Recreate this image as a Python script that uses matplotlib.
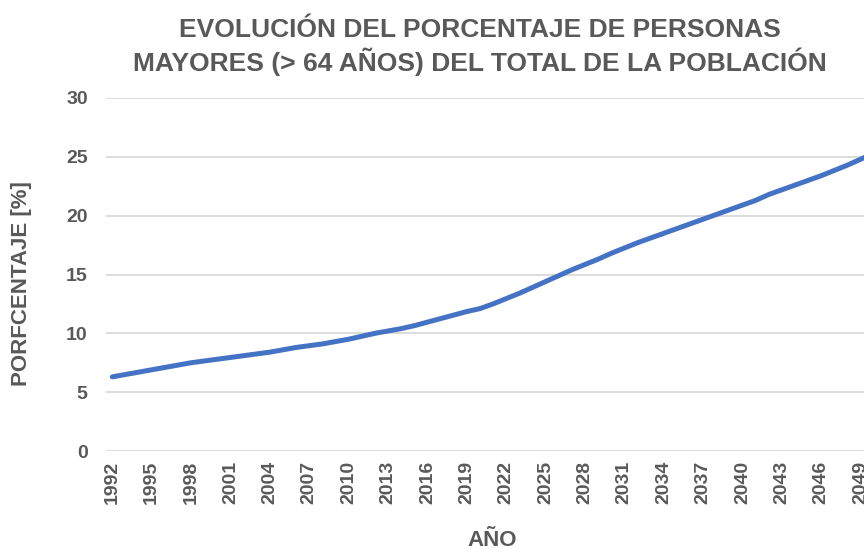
import matplotlib
matplotlib.use("Agg")
import matplotlib.pyplot as plt

years = list(range(1992, 2051))
porcentaje = [6.3, 6.5, 6.7, 6.9, 7.1, 7.3, 7.5, 7.65, 7.8, 7.95,
              8.1, 8.25, 8.4, 8.6, 8.8, 8.95, 9.1, 9.3, 9.5, 9.75,
              10.0, 10.2, 10.4, 10.65, 10.95, 11.25, 11.55, 11.85, 12.1, 12.5,
              12.95, 13.4, 13.9, 14.4, 14.9, 15.4, 15.85, 16.3, 16.8, 17.25,
              17.7, 18.1, 18.5, 18.9, 19.3, 19.7, 20.1, 20.5, 20.9, 21.3,
              21.8, 22.2, 22.6, 23.0, 23.4, 23.85, 24.3, 24.8, 25.3]
xtick_years = list(range(1992, 2050, 3))
yticks = [0, 5, 10, 15, 20, 25, 30]

gray = "#595959"
plt.rcParams["font.family"] = ["Liberation Sans", "DejaVu Sans"]

fig = plt.figure(figsize=(8.64, 5.5), dpi=100)
# plot area runs past the right edge, the original is cropped there
ax = fig.add_axes([105.7 / 864, 99 / 550, 774.7 / 864, 353 / 550])

ax.plot(years, porcentaje, color="#4472C4", lw=3.6, solid_capstyle="round")

ax.set_xlim(1991.5, 2050.5)
ax.set_ylim(0, 30)
ax.set_yticks(yticks)
ax.set_xticks(xtick_years)
ax.set_xticklabels([str(y) for y in xtick_years], rotation=90)
ax.tick_params(length=0, colors=gray)
ax.tick_params(axis="y", pad=13, labelsize=14)
ax.tick_params(axis="x", pad=7, labelsize=14)
for lab in ax.get_xticklabels() + ax.get_yticklabels():
    lab.set_fontweight("bold")

ax.grid(axis="y", color="#d9d9d9", lw=1.3)
ax.set_axisbelow(True)
for s in ax.spines.values():
    s.set_visible(False)

fig.text(480 / 864, 1 - 47 / 550,
         "EVOLUCIÓN DEL PORCENTAJE DE PERSONAS\nMAYORES (> 64 AÑOS) DEL TOTAL DE LA POBLACIÓN",
         ha="center", va="center", fontsize=19, fontweight="bold", color=gray,
         linespacing=1.2)
fig.text(22 / 864, 1 - 284 / 550, "PORFCENTAJE [%]", rotation=90, ha="center", va="center",
         fontsize=16, fontweight="bold", color=gray)
fig.text(492 / 864, 1 - 540 / 550, "AÑO", ha="center", va="center",
         fontsize=16, fontweight="bold", color=gray)

fig.savefig("out.png", dpi=100)
